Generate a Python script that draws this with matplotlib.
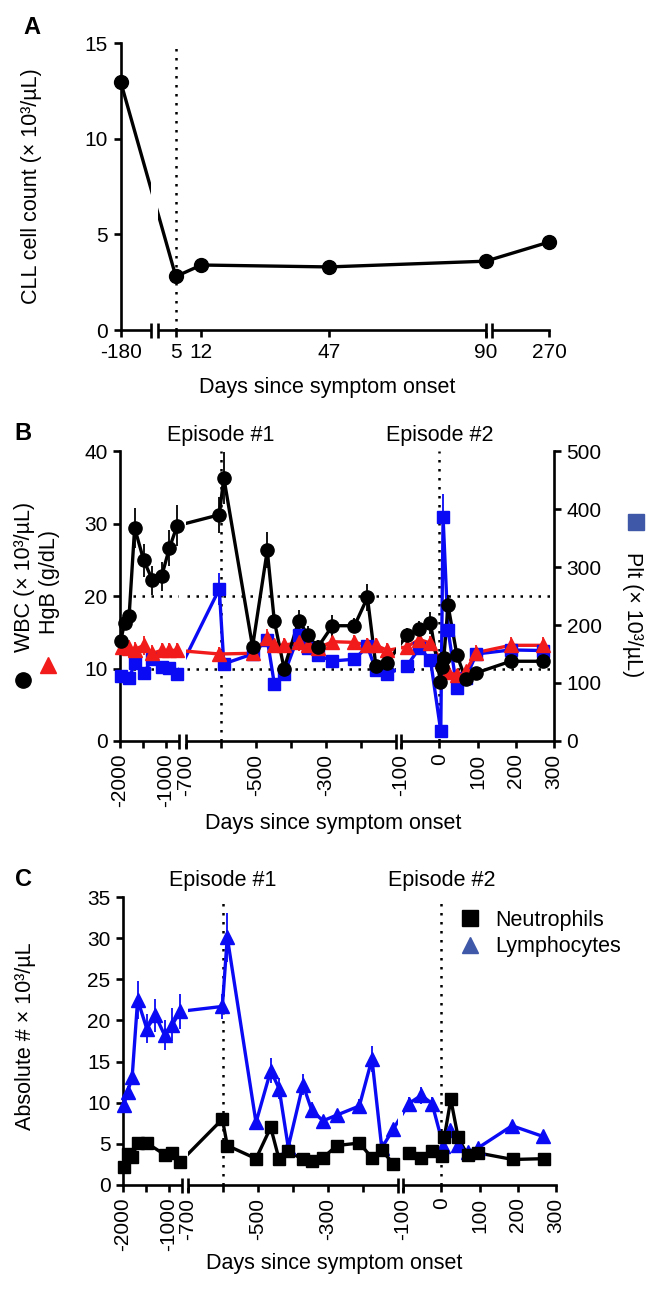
import numpy as np
import matplotlib
matplotlib.use("Agg")
import matplotlib.pyplot as plt
from matplotlib.lines import Line2D
from matplotlib.patches import Rectangle
import matplotlib.transforms as mtransforms

# ---------------- data ----------------
# Panel A
a_days = [-180, 5, 12, 47, 90, 270]
a_cll = [13.0, 2.8, 3.4, 3.3, 3.6, 4.6]
a_ticks = [-180, 5, 12, 47, 90, 270]
a_tick_labels = ["-180", "5", "12", "47", "90", "270"]

# Panel B
wbc_days = [-1985, -1900, -1800, -1680, -1480, -1290, -1090, -920, -750,
            -605, -592, -510, -468, -448, -420, -378, -352, -324, -282, -219, -182, -158, -125,
            -85, -52, -23, 3, 6, 12, 23, 46, 69, 97, 187, 270]
wbc_vals = [13.8, 16.3, 17.3, 29.4, 24.9, 22.2, 22.7, 26.6, 29.7,
            31.2, 36.3, 13.0, 26.3, 16.6, 10.0, 16.6, 14.6, 12.9, 15.9, 15.9, 19.8, 10.4, 10.8,
            14.6, 15.4, 16.3, 8.2, 10.2, 11.5, 18.7, 11.9, 8.5, 9.4, 11.0, 11.0]
wbc_err = [0.8, 0.8, 0.3, 2.8, 2.3, 2.0, 2.0, 2.5, 2.8,
           2.5, 3.6, 0.5, 2.5, 1.0, 0.5, 1.5, 1.2, 1.0, 1.5, 1.0, 1.9, 0.5, 1.0,
           1.0, 1.2, 1.5, 0.5, 0.8, 1.5, 1.5, 0.5, 0.5, 0.5, 0.5, 0.5]

hgb_days = [-1960, -1800, -1680, -1480, -1290, -1090, -920, -750,
            -605, -510, -468, -448, -420, -378, -352, -324, -282, -219, -182, -158, -125,
            -85, -52, -23, 6, 23, 46, 69, 97, 187, 270]
hgb_vals = [12.9, 12.8, 12.6, 13.2, 12.1, 12.5, 12.5, 12.5,
            12.0, 12.1, 14.2, 13.2, 13.2, 13.6, 13.2, 12.8, 13.7, 13.6, 13.2, 13.2, 12.5,
            13.0, 14.0, 13.5, 11.0, 9.5, 9.1, 9.6, 12.2, 13.2, 13.2]
hgb_err = [1.0, 1.2, 1.0, 1.3, 1.2, 1.0, 1.0, 1.0,
           1.0, 0.8, 1.3, 1.0, 1.0, 1.2, 1.0, 1.0, 1.0, 1.0, 1.0, 1.0, 1.0,
           1.0, 1.2, 1.0, 0.8, 0.8, 0.8, 0.8, 1.0, 1.2, 1.2]

plt_days = [-1985, -1800, -1680, -1480, -1290, -1090, -920, -750,
            -605, -592, -510, -468, -448, -420, -378, -352, -324, -282, -219, -182, -158, -125,
            -85, -52, -23, 4, 10, 23, 46, 69, 97, 187, 270]
plt_vals = [112, 108, 134, 118, 141, 128, 126, 115,
            262, 133, 150, 175, 99, 115, 183, 160, 148, 138, 141, 163, 122, 116,
            129, 160, 140, 17, 386, 191, 92, 108, 150, 157, 156]
plt_err = [6, 6, 6, 6, 6, 6, 6, 6,
           28, 6, 5, 8, 5, 5, 10, 8, 6, 5, 5, 6, 5, 5,
           6, 8, 6, 3, 40, 8, 5, 5, 5, 5, 5]

b_ticks = [-2000, -1500, -1000, -700, -600, -500, -400, -300, -200, -100, 0, 100, 200, 300]
b_tick_labels = ["-2000", "", "-1000", "-700", "", "-500", "", "-300", "", "-100",
                 "0", "100", "200", "300"]

# Panel C
lym_days = [-1985, -1900, -1800, -1680, -1480, -1290, -1090, -920, -750,
            -601, -587, -505, -463, -439, -413, -371, -346, -314, -274, -210, -174, -146, -113,
            -85, -52, -24, 5, 22, 44, 69, 96, 185, 266]
lym_vals = [9.7, 11.3, 13.1, 22.5, 19.0, 20.6, 18.2, 19.5, 21.1,
            21.7, 30.1, 7.6, 13.9, 11.7, 4.6, 12.2, 9.1, 7.8, 8.5, 9.6, 15.3, 4.5, 6.8,
            9.9, 10.9, 9.9, 4.8, 6.7, 4.9, 4.0, 4.5, 7.2, 5.9]
lym_err = [0.8, 0.7, 0.8, 2.3, 1.8, 2.0, 1.8, 2.0, 2.1,
           1.5, 3.0, 0.4, 1.5, 1.3, 0.4, 1.3, 1.0, 0.5, 0.6, 0.8, 1.6, 0.3, 0.5,
           0.8, 1.0, 0.8, 0.3, 0.6, 0.3, 0.3, 0.3, 0.5, 0.3]

neu_days = [-1985, -1900, -1800, -1680, -1480, -1090, -920, -750,
            -601, -587, -505, -463, -439, -413, -371, -346, -314, -274, -210, -174, -146, -113,
            -85, -52, -24, 3, 8, 25, 44, 69, 96, 187, 268]
neu_vals = [2.2, 3.8, 3.4, 5.1, 5.1, 3.7, 3.9, 2.8,
            8.0, 4.8, 3.2, 7.0, 3.1, 4.1, 3.1, 2.9, 3.3, 4.8, 5.1, 3.3, 4.2, 2.6,
            3.9, 3.3, 4.1, 3.5, 5.8, 10.4, 5.8, 3.6, 3.9, 3.1, 3.2]
neu_err = [0.3, 0.3, 0.3, 0.3, 0.3, 0.3, 0.3, 0.3,
           0.5, 0.3, 0.3, 0.4, 0.3, 0.3, 0.3, 0.3, 0.3, 0.3, 0.3, 0.3, 0.3, 0.3,
           0.3, 0.3, 0.3, 0.3, 0.4, 0.8, 0.3, 0.3, 0.3, 0.3, 0.3]

episodes = [-600, 0]
episode_labels = ["Episode #1", "Episode #2"]

# ---------------- style ----------------
W, H = 668, 1301
plt.rcParams['font.family'] = ['Liberation Sans', 'DejaVu Sans']
plt.rcParams['font.size'] = 15
SPW = 1.9
LW = 2.4
BLUE = '#0A0AF5'
RED = '#F21B1B'
MUTED_BLUE = '#3F58A8'
DOT = (0, (1, 2.6))

fig = plt.figure(figsize=(W / 100, H / 100), dpi=100)


def add_ax(l, r, t, b):
    return fig.add_axes([l / W, 1 - b / H, (r - l) / W, (b - t) / H])


def piecewise(d, p):
    d = np.asarray(d, float)
    p = np.asarray(p, float)

    def mk(src, dst):
        def f(x):
            x = np.asarray(x, float)
            y = np.interp(x, src, dst)
            y = np.where(x < src[0], dst[0] + (x - src[0]) * (dst[1] - dst[0]) / (src[1] - src[0]), y)
            y = np.where(x > src[-1], dst[-1] + (x - src[-1]) * (dst[-1] - dst[-2]) / (src[-1] - src[-2]), y)
            return y
        return f
    return mk(d, p), mk(p, d)


def style(ax):
    for s in ['top', 'right']:
        ax.spines[s].set_visible(False)
    for s in ['left', 'bottom']:
        ax.spines[s].set_linewidth(SPW)
    ax.tick_params(direction='out', length=5, width=SPW, labelsize=15, pad=4)


def add_breaks(ax, gaps, h_px):
    tr = mtransforms.blended_transform_factory(ax.transData, ax.transAxes)
    e = 3.2 / h_px
    b = 7.5 / h_px
    for x0, x1 in gaps:
        ax.axvspan(x0, x1, ymin=0, ymax=1, facecolor='white', edgecolor='none', zorder=2.3)
        ax.add_patch(Rectangle((x0, -e), x1 - x0, 2 * e, transform=tr, facecolor='white',
                               edgecolor='none', clip_on=False, zorder=2.6))
        for xx in (x0, x1):
            ax.plot([xx, xx], [-b, b], transform=tr, color='black', lw=SPW, clip_on=False,
                    zorder=2.7, solid_capstyle='butt')


def series(ax, x, y, e, color, marker, ms, zl, zm, tr=None):
    kw = {} if tr is None else {'transform': tr}
    x = np.asarray(x, float)
    y = np.asarray(y, float)
    ax.plot(x, y, color=color, lw=LW, zorder=zl, **kw)
    if e is not None:
        e = np.asarray(e, float)
        ax.vlines(x, y - e, y + e, colors=color, lw=1.3, zorder=zl + 0.05, **kw)
    ax.plot(x, y, ls='none', marker=marker, ms=ms, color=color, mec=color, zorder=zm,
            clip_on=False, **kw)


def fig_marker(x, y, marker, color, ms=11):
    fig.add_artist(Line2D([x / W], [1 - y / H], transform=fig.transFigure, marker=marker,
                          ms=ms, color=color, ls='none'))


def ftext(x, y, s, **kw):
    fig.text(x / W, 1 - y / H, s, **kw)


# ---------------- Panel A ----------------
axA = add_ax(120.6, 549, 43.3, 330)
fA, iA = piecewise([-180, -170, 0, 90, 250, 270], [120.6, 151, 157.6, 485.7, 492, 549])
axA.set_xscale('function', functions=(fA, iA))
style(axA)
axA.axvline(5, color='black', lw=1.8, ls=DOT, zorder=1.5)
series(axA, a_days, a_cll, None, 'black', 'o', 10, 2.0, 3.0)
axA.set_xlim(-180, 270)
axA.set_ylim(0, 15)
axA.set_yticks([0, 5, 10, 15])
axA.set_xticks(a_ticks)
axA.set_xticklabels(a_tick_labels)
add_breaks(axA, [(-170, 0), (90, 250)], 330 - 43.3)
ftext(32, 27, 'A', fontsize=17, fontweight='bold', ha='center', va='center')
ftext(32, 186, 'CLL cell count (× 10³/µL)', rotation=90, ha='center', va='center', fontsize=15.5)
ftext(327, 387, 'Days since symptom onset', ha='center', va='center', fontsize=15.5)

# ---------------- Panel B ----------------
B_l, B_r, B_t, B_b = 120, 554, 451, 741
axB = add_ax(B_l, B_r, B_t, B_b)
fB, iB = piecewise([-2000, -700.5, -700, -100.5, -100, 300], [120, 179.4, 186, 396, 401, 554])
axB.set_xscale('function', functions=(fB, iB))
axB2 = axB.twinx()
axB.set_zorder(axB2.get_zorder() + 1)
axB.patch.set_visible(False)
style(axB)
for s in ['left', 'top', 'bottom']:
    axB2.spines[s].set_visible(False)
axB2.spines['right'].set_linewidth(SPW)
axB2.tick_params(direction='out', length=5, width=SPW, labelsize=15, pad=4)

for xe in episodes:
    axB.axvline(xe, color='black', lw=1.8, ls=DOT, zorder=1.5)
axB.axhline(20, xmin=0.03, xmax=0.99, color='black', lw=1.8, ls=DOT, zorder=1.5)
axB.axhline(10, xmin=0.03, xmax=0.99, color='black', lw=1.8, ls=DOT, zorder=1.5)

axB.set_xlim(-2000, 300)
axB.set_ylim(0, 40)
axB2.set_ylim(0, 500)
series(axB, plt_days, plt_vals, plt_err, BLUE, 's', 8.5, 1.8, 3.0, tr=axB2.transData)
series(axB, hgb_days, hgb_vals, hgb_err, RED, '^', 9.5, 1.9, 3.1)
series(axB, wbc_days, wbc_vals, wbc_err, 'black', 'o', 9.5, 2.0, 3.2)
axB.set_xlim(-2000, 300)
axB.set_ylim(0, 40)
axB2.set_ylim(0, 500)
axB.set_yticks([0, 10, 20, 30, 40])
axB2.set_yticks([0, 100, 200, 300, 400, 500])
axB.set_xticks(b_ticks)
axB.set_xticklabels(b_tick_labels, rotation=90)
add_breaks(axB, [(-700.5, -700), (-100.5, -100)], B_b - B_t)

trB = mtransforms.blended_transform_factory(axB.transData, axB.transAxes)
for xe, lab in zip(episodes, episode_labels):
    axB.text(xe, 1 + (B_t - 435) / (B_b - B_t), lab, transform=trB, ha='center', va='center',
             fontsize=15.5)
ftext(23, 433, 'B', fontsize=17, fontweight='bold', ha='center', va='center')
ftext(25, 577, 'WBC (× 10³/µL)', rotation=90, ha='center', va='center', fontsize=15.5)
ftext(50, 582, 'HgB (g/dL)', rotation=90, ha='center', va='center', fontsize=15.5)
fig_marker(23, 680, 'o', 'black', 11)
fig_marker(48, 665, '^', RED, 11)
fig_marker(636, 522, 's', MUTED_BLUE, 11)
ftext(633, 615, 'Plt (× 10³/µL)', rotation=270, ha='center', va='center', fontsize=15.5)
ftext(333, 824, 'Days since symptom onset', ha='center', va='center', fontsize=15.5)

# ---------------- Panel C ----------------
C_l, C_r, C_t, C_b = 123, 556, 897, 1185
axC = add_ax(C_l, C_r, C_t, C_b)
fC, iC = piecewise([-2000, -700.5, -700, -100.5, -100, 300], [123, 182.4, 187.7, 397.7, 403, 556])
axC.set_xscale('function', functions=(fC, iC))
style(axC)
for xe in episodes:
    axC.axvline(xe, color='black', lw=1.8, ls=DOT, zorder=1.5)
series(axC, lym_days, lym_vals, lym_err, BLUE, '^', 9.5, 1.9, 3.0)
series(axC, neu_days, neu_vals, neu_err, 'black', 's', 8.5, 2.0, 3.1)
axC.set_xlim(-2000, 300)
axC.set_ylim(0, 35)
axC.set_yticks([0, 5, 10, 15, 20, 25, 30, 35])
axC.set_xticks(b_ticks)
axC.set_xticklabels(b_tick_labels, rotation=90)
add_breaks(axC, [(-700.5, -700), (-100.5, -100)], C_b - C_t)

trC = mtransforms.blended_transform_factory(axC.transData, axC.transAxes)
for xe, lab in zip(episodes, episode_labels):
    axC.text(xe, 1 + (C_t - 880) / (C_b - C_t), lab, transform=trC, ha='center', va='center',
             fontsize=15.5)
handles = [Line2D([], [], marker='s', color='black', ls='none', ms=12),
           Line2D([], [], marker='^', color=MUTED_BLUE, ls='none', ms=12)]
axC.legend(handles, ['Neutrophils', 'Lymphocytes'], loc='upper left',
           bbox_to_anchor=((459.6 - C_l) / (C_r - C_l), (C_b - 910) / (C_b - C_t)),
           frameon=False, handlelength=1.0, handletextpad=0.65, borderaxespad=0,
           borderpad=0, labelspacing=0.25, fontsize=15.5)
ftext(24, 880, 'C', fontsize=17, fontweight='bold', ha='center', va='center')
ftext(26, 1036, 'Absolute # × 10³/µL', rotation=90, ha='center', va='center', fontsize=15.5)
ftext(334, 1263, 'Days since symptom onset', ha='center', va='center', fontsize=15.5)

fig.savefig('out.png', dpi=100)
